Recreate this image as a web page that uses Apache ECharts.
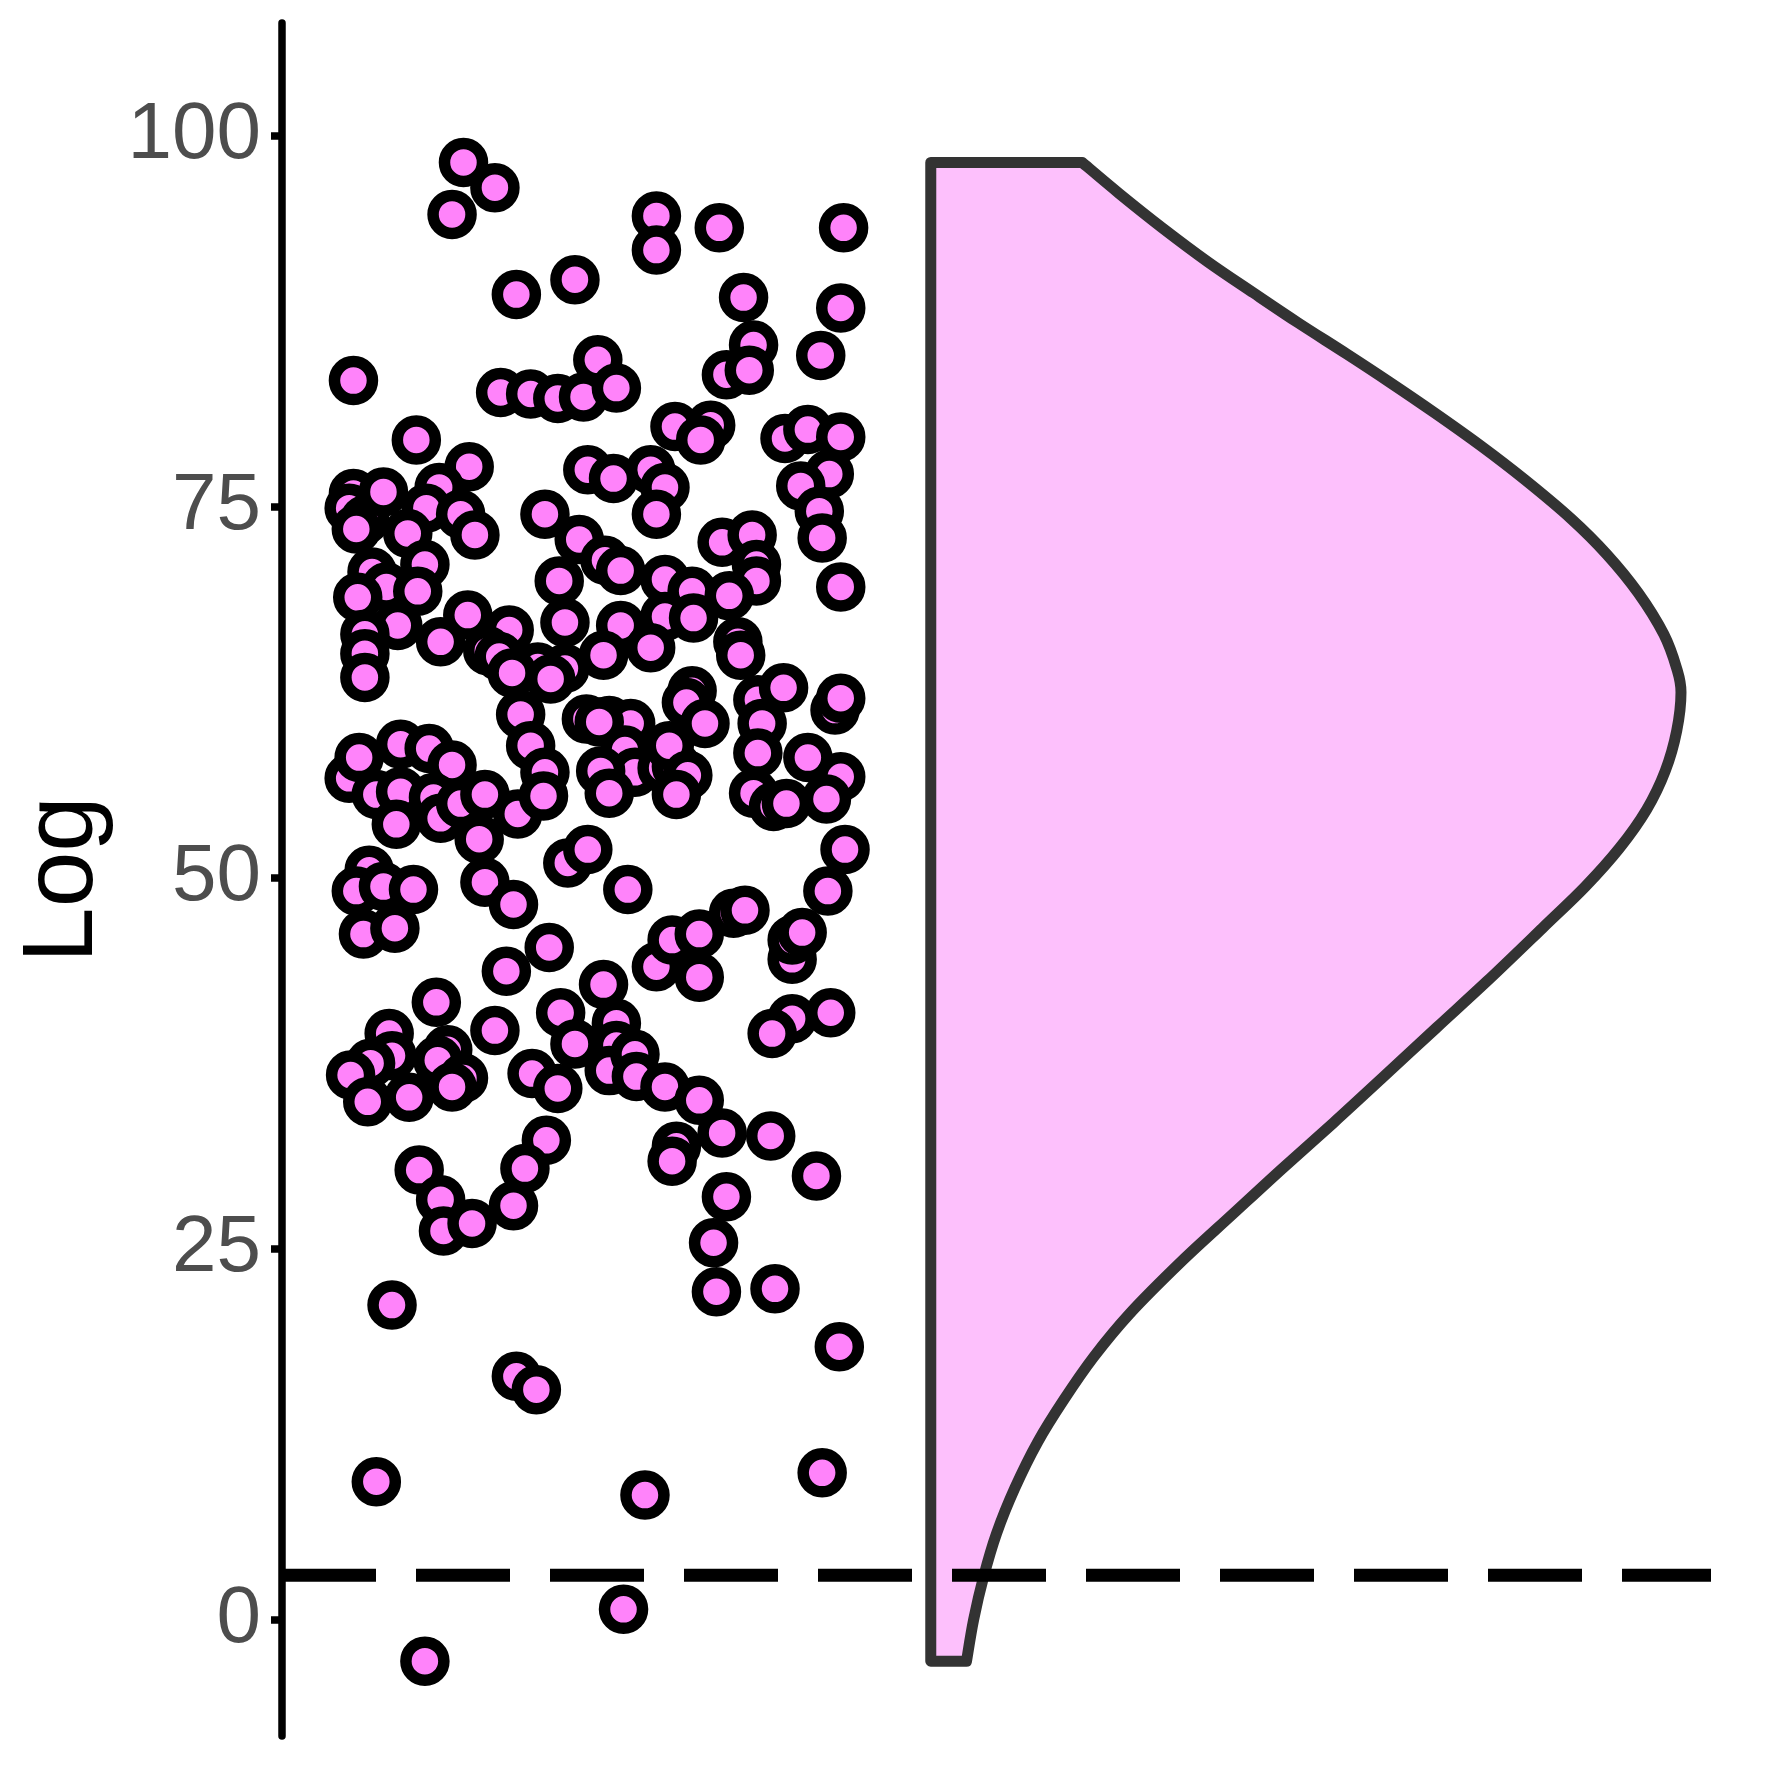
<!DOCTYPE html>
<html>
<head>
<meta charset="utf-8">
<title>Log</title>
<script src="https://cdn.jsdelivr.net/npm/echarts@6/dist/echarts.min.js"></script>
<style>
  html, body { margin: 0; padding: 0; background: #fff; }
  #chart { width: 1771px; height: 1771px; }
</style>
</head>
<body>
<div id="chart"></div>
<script>
// jittered points: horizontal position (0-100 across the panel) and Log value
const jitterX = [
  12.7, 14.9, 11.9, 26.2, 26.2, 30.6, 39.3, 20.5, 16.4, 32.3, 39.1, 33.0, 22.1, 37.7, 5.0, 15.3, 17.4, 19.3, 21.1, 23.4,
  31.1, 32.7, 9.4, 27.5, 30.0, 29.3, 35.2, 36.8, 39.1, 13.1, 21.4, 25.8, 23.2, 26.8, 38.3, 36.3, 5.0, 4.7, 5.8, 5.2,
  7.1, 11.0, 10.1, 12.5, 13.5, 8.8, 18.4, 20.8, 26.2, 37.6, 37.8, 30.8, 32.9, 33.2, 33.2, 22.6, 23.7, 19.4, 26.8, 28.7,
  31.3, 39.1, 10.0, 6.3, 7.3, 5.3, 9.5, 8.1, 13.0, 15.9, 19.8, 23.7, 26.8, 28.8, 11.1, 5.8, 5.8, 5.8, 14.4, 15.2,
  17.9, 16.1, 19.8, 18.8, 22.5, 25.8, 31.9, 32.1, 28.7, 28.3, 29.6, 33.3, 35.1, 33.6, 38.7, 39.1, 16.7, 17.4, 21.3, 22.9,
  24.4, 22.2, 24.0, 24.7, 22.3, 22.9, 26.6, 27.6, 27.1, 28.4, 27.6, 33.3, 36.8, 33.0, 34.4, 35.3, 39.1, 38.1, 4.7, 5.4,
  8.3, 10.3, 11.9, 6.6, 8.3, 8.0, 10.6, 11.1, 12.5, 14.2, 16.5, 18.4, 18.3, 13.8, 20.0, 21.4, 24.2, 39.4, 38.2, 6.1,
  5.2, 7.1, 9.2, 14.2, 16.2, 5.7, 7.9, 18.7, 15.7, 22.5, 26.2, 27.3, 29.2, 29.2, 31.6, 32.4, 35.7, 35.7, 36.4, 10.8,
  7.5, 7.7, 6.2, 4.8, 6.0, 8.9, 11.6, 10.9, 12.7, 11.9, 14.9, 19.5, 20.5, 17.5, 19.3, 23.4, 23.4, 22.9, 24.7, 24.8,
  26.8, 29.2, 30.8, 34.2, 35.7, 34.3, 38.4, 18.5, 17.0, 16.2, 9.6, 11.1, 11.3, 13.3, 27.6, 27.3, 31.1, 37.4, 30.2, 30.4,
  34.5, 7.7, 39.0, 16.4, 17.8, 6.6, 37.8, 25.4, 23.9, 10.0
]
const logValues = [
  98.2, 96.5, 94.7, 94.6, 92.3, 93.8, 93.8, 90.3, 89.3, 89.1, 88.4, 85.9, 84.9, 85.2, 83.5, 82.7, 82.6, 82.3, 82.4, 83.0,
  83.9, 84.2, 79.5, 80.4, 80.5, 79.5, 79.6, 80.2, 79.7, 77.7, 77.5, 77.5, 76.9, 76.3, 77.2, 76.4, 75.9, 74.9, 74.1, 73.5,
  76.0, 76.3, 74.9, 74.5, 73.1, 73.2, 74.5, 72.8, 74.5, 74.7, 72.9, 72.6, 73.1, 71.1, 70.0, 71.4, 70.7, 70.0, 70.1, 69.3,
  69.0, 69.6, 71.1, 70.6, 69.6, 68.9, 69.3, 67.0, 67.7, 66.7, 67.2, 67.0, 67.6, 67.5, 65.9, 66.4, 65.1, 63.5, 65.3, 64.9,
  64.2, 63.8, 64.1, 63.4, 65.0, 65.5, 65.9, 65.0, 62.6, 61.8, 60.4, 62.0, 62.8, 60.4, 61.3, 62.1, 61.0, 58.9, 60.7, 60.6,
  60.4, 60.5, 58.6, 57.1, 57.2, 55.7, 57.4, 57.5, 58.9, 56.9, 55.6, 58.4, 58.1, 55.7, 54.8, 55.0, 56.8, 55.3, 56.7, 58.1,
  59.0, 58.7, 57.6, 55.6, 55.8, 53.6, 55.4, 54.0, 55.0, 55.6, 54.3, 57.1, 55.5, 52.6, 51.0, 51.9, 49.2, 51.9, 49.1, 50.5,
  49.1, 49.4, 49.2, 49.7, 48.2, 46.2, 46.6, 45.3, 43.7, 42.8, 44.0, 45.8, 46.2, 43.3, 47.6, 47.8, 44.5, 45.8, 46.3, 41.6,
  39.5, 38.0, 37.5, 36.7, 34.9, 35.2, 38.4, 37.7, 36.5, 35.9, 39.7, 40.9, 38.8, 36.8, 35.8, 40.2, 38.7, 37.0, 38.1, 36.6,
  35.9, 35.0, 32.8, 32.6, 40.5, 39.5, 40.9, 32.3, 30.4, 27.9, 30.3, 28.3, 26.2, 26.7, 31.9, 30.9, 28.5, 29.9, 25.4, 22.1,
  22.3, 21.2, 18.4, 16.4, 15.5, 9.3, 9.9, 8.4, 0.7, -2.8
]

// half violin: density width (same units as jitterX) at each Log value
const violinBase = 45.4
const violinLog = [
  -2.8, 0.0, 2.9, 5.8, 8.9, 12.0, 14.8, 17.7, 20.6, 24.1, 27.3, 30.4, 33.5, 36.6, 39.9, 43.0, 46.6,
  49.4, 52.0, 54.6, 57.2, 59.9, 62.5, 64.1, 66.4, 69.2, 71.8, 74.2, 76.8, 79.1, 81.3, 83.4, 85.3,
  87.4, 89.4, 91.5, 93.8, 96.1, 98.2
]
const violinWidth = [
  2.5, 3.0, 3.7, 4.6, 5.9, 7.5, 9.3, 11.4, 13.9, 17.5, 21.1, 24.6, 28.2, 31.7, 35.4, 38.9, 42.8,
  45.8, 48.2, 50.1, 51.4, 52.2, 52.5, 52.2, 51.3, 49.5, 47.3, 44.8, 41.6, 38.5, 35.3, 32.1, 29.1,
  25.7, 22.6, 19.4, 16.2, 13.2, 10.6
]

const yTicks = [0, 25, 50, 75, 100]
const refLine = 3

const fontFamily = '"Liberation Sans", Arial, Helvetica, sans-serif'

// outline through the given pixel points (Catmull-Rom as cubic beziers)
function curvePath(pts) {
  let d = ''
  for (let i = 0; i < pts.length - 1; i++) {
    let p0 = pts[Math.max(i - 1, 0)]
    let p1 = pts[i]
    let p2 = pts[i + 1]
    let p3 = pts[Math.min(i + 2, pts.length - 1)]
    let c1 = [p1[0] + (p2[0] - p0[0]) / 6, p1[1] + (p2[1] - p0[1]) / 6]
    let c2 = [p2[0] - (p3[0] - p1[0]) / 6, p2[1] - (p3[1] - p1[1]) / 6]
    d += ' C' + c1[0] + ',' + c1[1] + ' ' + c2[0] + ',' + c2[1] + ' ' + p2[0] + ',' + p2[1]
  }
  return d
}

const chart = echarts.init(document.getElementById('chart'), null, { renderer: 'canvas' })

chart.setOption({
  animation: false,
  backgroundColor: '#ffffff',
  grid: { left: 282, right: 60, top: 23, bottom: 35, containLabel: false },
  xAxis: { type: 'value', min: 0, max: 100, show: false },
  yAxis: {
    type: 'value',
    min: -7.84,
    max: 107.6,
    name: 'Log',
    nameLocation: 'middle',
    nameGap: 168,
    nameTextStyle: { fontSize: 100, color: '#000000', fontFamily: fontFamily },
    axisLine: { show: true, lineStyle: { color: '#000000', width: 7.5 } },
    axisTick: { show: true, length: 11, lineStyle: { color: '#000000', width: 7.5 }, customValues: yTicks },
    axisLabel: { customValues: yTicks, fontSize: 80, color: '#4D4D4D', margin: 21, fontFamily: fontFamily },
    splitLine: { show: false }
  },
  series: [
    {
      type: 'custom',
      name: 'violin',
      silent: true,
      z: 1,
      data: [[violinBase, violinLog[0]]],
      renderItem: function(params, api) {
        let pts = violinLog.map((y, i) => api.coord([violinBase + violinWidth[i], y]))
        let top = api.coord([violinBase, violinLog[violinLog.length - 1]])
        let bottom = api.coord([violinBase, violinLog[0]])
        let d = 'M' + bottom[0] + ',' + bottom[1] + ' L' + pts[0][0] + ',' + pts[0][1] +
          curvePath(pts) + ' L' + top[0] + ',' + top[1] + ' Z'
        return {
          type: 'path',
          shape: { pathData: d },
          style: { fill: '#FDC0FC', stroke: '#333333', lineWidth: 11, lineJoin: 'round' }
        }
      }
    },
    {
      type: 'scatter',
      name: 'points',
      z: 3,
      symbol: 'circle',
      symbolSize: 38,
      itemStyle: { color: '#FF83FA', borderColor: '#000000', borderWidth: 11.5, opacity: 1 },
      data: jitterX.map((x, i) => [x, logValues[i]])
    },
    {
      type: 'line',
      name: 'ref',
      z: 5,
      silent: true,
      symbol: 'none',
      lineStyle: { color: '#000000', width: 13, type: [94, 40], cap: 'butt' },
      data: [[0, refLine], [100, refLine]]
    }
  ]
})
</script>
</body>
</html>
